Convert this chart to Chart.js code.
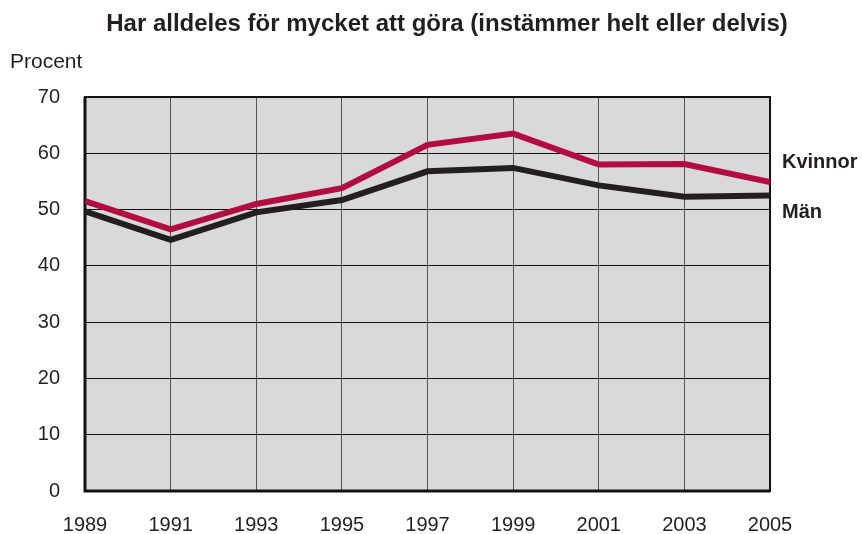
<!DOCTYPE html>
<html><head><meta charset="utf-8">
<script src="https://cdn.jsdelivr.net/npm/chart.js@4"></script>
<style>html,body{margin:0;padding:0;background:#fff}#wrap{width:862px;height:534px}</style>
</head><body><div id="wrap"><canvas id="c" width="862" height="534"></canvas></div>
<script>
const years = [1989, 1991, 1993, 1995, 1997, 1999, 2001, 2003, 2005];
const kvinnor = [51.5, 46.5, 51.0, 53.8, 61.5, 63.5, 58.0, 58.1, 54.9];
const man = [49.7, 44.6, 49.5, 51.7, 56.8, 57.4, 54.3, 52.3, 52.5];
const seriesNames = ["Kvinnor", "Män"];
const title = "Har alldeles för mycket att göra (instämmer helt eller delvis)";
const yAxisTitle = "Procent";

const FONT = "'Liberation Sans', Arial, sans-serif";

const decor = {
  id: 'decor',
  beforeDraw(chart) {
    const {ctx, chartArea: a} = chart;
    ctx.save();
    ctx.fillStyle = '#d9d9dc';
    ctx.fillRect(a.left, a.top, a.right - a.left, a.bottom - a.top);
    ctx.restore();
  },
  beforeDatasetsDraw(chart) {
    const {ctx, chartArea: a} = chart;
    ctx.save();
    ctx.strokeStyle = '#111';
    ctx.lineWidth = 2;
    ctx.strokeRect(a.left, a.top, a.right - a.left, a.bottom - a.top);
    ctx.lineWidth = 3;
    ctx.beginPath();
    ctx.moveTo(a.left, a.top); ctx.lineTo(a.left, a.bottom); ctx.lineTo(a.right, a.bottom);
    ctx.stroke();
    ctx.restore();
  },
  afterDraw(chart) {
    const {ctx} = chart;
    ctx.save();
    ctx.fillStyle = '#231f20';
    ctx.textBaseline = 'middle';
    ctx.font = "bold 24px " + FONT;
    ctx.textAlign = 'center';
    ctx.fillText(title, 447, 24);
    ctx.font = "bold 20px " + FONT;
    ctx.textAlign = 'left';
    ctx.fillText(seriesNames[0], 782, 162);
    ctx.fillText(seriesNames[1], 782, 212);
    ctx.font = "21px " + FONT;
    ctx.fillText(yAxisTitle, 10, 62);
    ctx.restore();
  }
};

new Chart(document.getElementById('c'), {
  type: 'line',
  data: {
    datasets: [
      { label: seriesNames[0], data: years.map((y, i) => ({x: y, y: kvinnor[i]})),
        borderColor: '#b20c40', borderWidth: 6, pointRadius: 0, tension: 0, borderJoinStyle: 'miter', borderCapStyle: 'butt' },
      { label: seriesNames[1], data: years.map((y, i) => ({x: y, y: man[i]})),
        borderColor: '#231f20', borderWidth: 6, pointRadius: 0, tension: 0, borderJoinStyle: 'miter', borderCapStyle: 'butt' }
    ]
  },
  options: {
    responsive: false,
    animation: false,
    devicePixelRatio: 1,
    layout: { padding: { top: 97, right: 92, left: 0, bottom: 0 } },
    plugins: { legend: { display: false }, tooltip: { enabled: false }, title: { display: false } },
    scales: {
      x: {
        type: 'linear', min: 1989, max: 2005,
        afterFit(s) { s.height = 43; },
        grid: { color: '#555', lineWidth: 1, drawTicks: false },
        border: { display: false },
        ticks: { stepSize: 2, padding: 22, color: '#231f20', font: { family: FONT, size: 20 }, callback: v => String(v), maxRotation: 0, autoSkip: false }
      },
      y: {
        min: 0, max: 70,
        afterFit(s) { s.width = 85; },
        grid: { color: '#111', lineWidth: 1, drawTicks: false },
        border: { display: false },
        ticks: { stepSize: 10, padding: 25, color: '#231f20', font: { family: FONT, size: 20 } }
      }
    }
  },
  plugins: [decor]
});
</script>
</body></html>
